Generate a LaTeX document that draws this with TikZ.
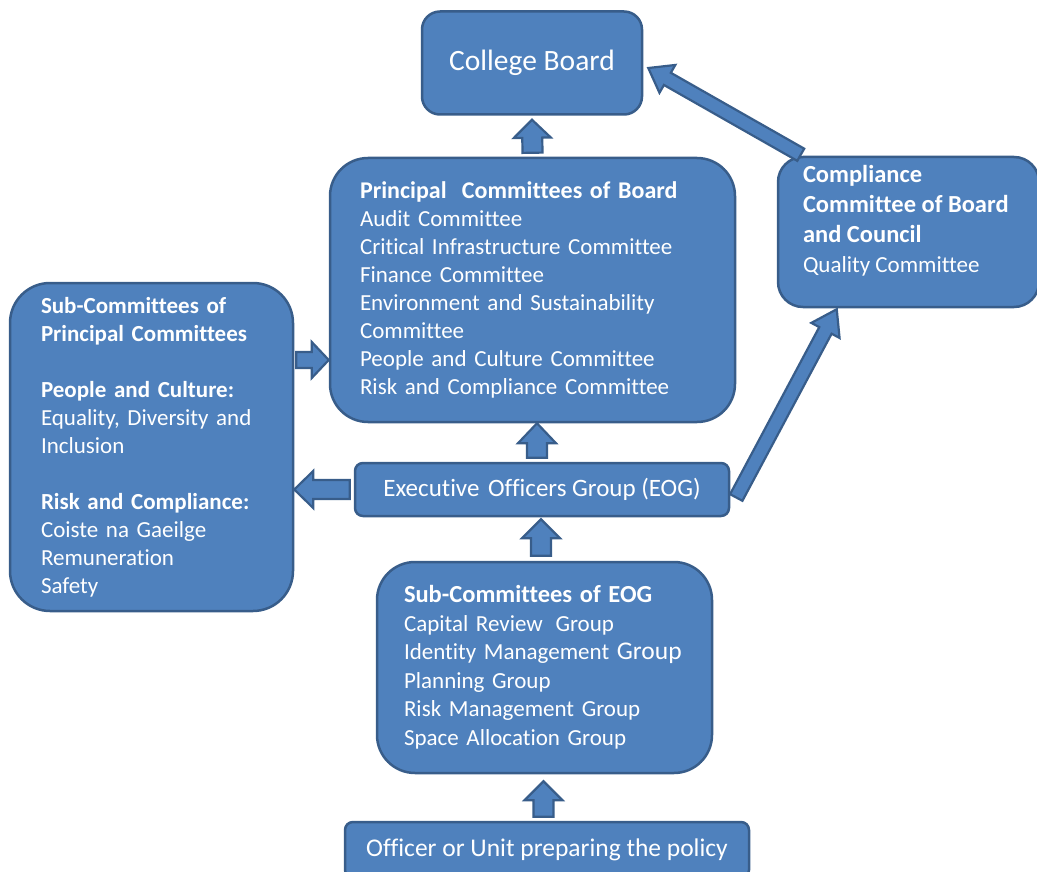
\documentclass[tikz,border=0pt]{standalone}
\usepackage{fontspec}
\setmainfont{Carlito}[Ligatures=NoCommon]
\usetikzlibrary{calc}
\definecolor{boxfill}{HTML}{4F81BD}
\definecolor{boxline}{HTML}{385D8A}
\newcommand{\headfont}{\fontsize{24.5}{28}\selectfont\bfseries}
\tikzset{
  panel/.style={draw=boxline, fill=boxfill, line width=2.5pt, text=white, inner ysep=0pt},
  arrowbody/.style={draw=boxline, fill=boxfill, line width=2.2pt, line join=miter},
}
% block arrow: from, to, shaft half width, head half width, head length
\newcommand{\blockarrow}[5]{%
  \path[arrowbody] let \p1=(#1), \p2=(#2),
    \n1={atan2(\y2-\y1,\x2-\x1)}, \n2={veclen(\x2-\x1,\y2-\y1)} in
    [shift={(\p1)}, rotate=\n1]
    (0pt,#3) -- (\n2-#5,#3) -- (\n2-#5,#4) -- (\n2,0pt) -- (\n2-#5,-#4) -- (\n2-#5,-#3) -- (0pt,-#3) -- cycle;}
\begin{document}
\begin{tikzpicture}[x=1pt, y=-1pt, font=\fontsize{23}{28}\selectfont]
  \useasboundingbox (0,0) rectangle (1037,872);
  % boxes
  \node[panel, rounded corners=18pt, minimum width=220pt, minimum height=103pt, align=center,
        font=\fontsize{29.5}{30}\selectfont] (cb) at (532,63) {College Board};
  \node[panel, rounded corners=38pt, minimum width=405pt, minimum height=264pt, inner xsep=30pt,
        text width=345pt, align=left] (pc) at (532.5,290)
    {{\fontsize{24}{28}\selectfont\bfseries Principal\ \ Committees of Board}\\ Audit Committee\\ Critical Infrastructure Committee\\
     Finance Committee\\ Environment and Sustainability\\ Committee\\ People and Culture Committee\\
     Risk and Compliance Committee};
  \node[panel, rounded corners=25pt, minimum width=261pt, minimum height=150pt, inner xsep=25pt] (comp) at (908.5,232)
    {\begin{minipage}[c][134pt][t]{211pt}\raggedright\fontsize{23}{30}\selectfont
     {\headfont Compliance}\\ {\headfont Committee of Board}\\ {\headfont and Council}\\ Quality Committee\end{minipage}};
  \node[panel, rounded corners=40pt, minimum width=283pt, minimum height=328pt, inner xsep=31pt,
        text width=221pt, align=left, font=\fontsize{23}{28}\selectfont] (subp) at (151.5,447)
    {\textbf{Sub-Committees of}\\ \textbf{Principal Committees}\\[28pt]
     \textbf{People and Culture:}\\ Equality, Diversity and\\ Inclusion\\[28pt]
     \textbf{Risk and Compliance:}\\ Coiste na Gaeilge\\ Remuneration\\ Safety};
  \node[panel, rounded corners=8pt, minimum width=374pt, minimum height=53pt, align=center,
        font=\fontsize{25}{28}\selectfont] (eog) at (542,489.5) {Executive\hspace{3pt} Officers Group (EOG)};
  \node[panel, rounded corners=38pt, minimum width=335pt, minimum height=211pt, inner xsep=27pt,
        text width=281pt, align=left, font=\fontsize{23}{28.5}\selectfont] (subeog) at (544.5,667.5)
    {{\headfont Sub-Committees of EOG}\\ Capital Review\hspace{5pt} Group\\
     Identity Management {\fontsize{25.5}{28}\selectfont Group}\\ Planning Group\\
     Risk Management Group\\ Space Allocation Group};
  \node[panel, rounded corners=8pt, minimum width=404pt, minimum height=56pt, align=center,
        font=\fontsize{25.5}{28}\selectfont] (off) at (547,850) {Officer or Unit preparing the policy};
  % connectors
  \blockarrow{$(pc.north)+(0,-4)$}{$(cb.south)+(0,4)$}{10pt}{18.5pt}{18pt}
  \blockarrow{$(eog.north)+(-5,-4)$}{$(pc.south)+(4.5,0)$}{10pt}{19pt}{20pt}
  \blockarrow{$(subeog.north)+(-3.5,-5)$}{$(eog.south)+(-1,2)$}{10pt}{19pt}{19pt}
  \blockarrow{$(off.north)+(-3.5,-4)$}{$(subeog.south)+(-1,7)$}{10pt}{19pt}{19pt}
  \blockarrow{$(subp.east)+(2,-87)$}{$(pc.west)+(0,70)$}{8pt}{18pt}{17pt}
  \blockarrow{$(eog.west)+(-4,0)$}{$(subp.east)+(0,42.5)$}{9.5pt}{18.5pt}{19pt}
  \blockarrow{$(eog.east)+(6,8)$}{$(comp.south west)+(60,1)$}{7pt}{16pt}{24pt}
  \blockarrow{$(comp.north west)+(24,-1)$}{$(cb.east)+(5,5)$}{7pt}{16pt}{22pt}
\end{tikzpicture}
\end{document}
